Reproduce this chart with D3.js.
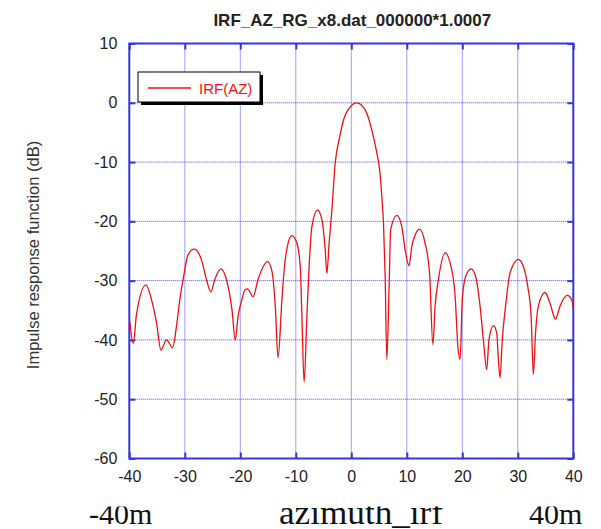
<!DOCTYPE html>
<html lang="en">
<head>
<meta charset="UTF-8">
<title>IRF azimuth</title>
<style>
  body { margin: 0; background: #fff; }
  svg { display: block; }
</style>
</head>
<body>
<svg id="chart" width="601" height="529"></svg>
<script src="https://cdnjs.cloudflare.com/ajax/libs/d3/7.8.5/d3.min.js"></script>
<script>

// azimuth position (m) and response (dB)
let azPos = [-39.9, -39.3, -38.7, -37.0, -36.0, -35.1, -34.3, -33.3, -32.2, -31.5,
  -30.9, -30.1, -29.4, -28.3, -27.0, -26.1, -25.3, -24.6, -23.5, -22.5,
  -21.5, -20.9, -20.4, -19.7, -19.2, -18.7, -17.7, -16.8, -15.1, -14.3,
  -13.7, -13.2, -12.5, -12.1, -11.4, -10.7, -9.8, -9.2, -8.9, -8.5,
  -8.0, -7.6, -7.1, -6.1, -5.3, -4.7, -4.4, -4.0, -3.5, -2.9,
  -2.1, -1.3, -0.3, 1.0, 2.5, 3.7, 4.5, 5.1, 5.5, 5.8,
  6.1, 6.4, 6.8, 7.1, 8.2, 9.1, 9.7, 10.4, 10.9, 11.5,
  12.3, 13.3, 14.1, 14.7, 15.1, 15.7, 16.9, 17.8, 18.7, 19.2,
  19.6, 20.0, 20.6, 21.6, 22.4, 23.2, 23.8, 24.4, 24.8, 25.6,
  26.2, 26.5, 26.8, 27.2, 27.8, 28.6, 30.1, 31.0, 31.8, 32.4,
  32.8, 33.2, 33.7, 34.9, 35.8, 36.8, 37.6, 38.9, 39.7, 40.0];

let irfDb = [-36.9, -40.6, -35.7, -30.7, -33.2, -37.1, -41.7, -40.0, -41.3, -37.7,
  -33.2, -28.7, -25.6, -24.7, -26.5, -29.8, -31.9, -29.8, -28.0, -29.8,
  -34.9, -40.0, -36.0, -33.2, -31.6, -31.4, -32.7, -29.8, -26.8, -28.4,
  -34.3, -43.0, -33.2, -28.2, -23.7, -22.4, -23.7, -27.6, -36.0, -47.1,
  -36.0, -27.6, -20.9, -18.1, -19.7, -24.8, -28.8, -23.7, -18.1, -10.2,
  -5.8, -2.6, -0.8, 0.0, -1.2, -4.6, -8.0, -11.3, -15.8, -20.3,
  -29.3, -43.3, -31.5, -21.4, -19.0, -20.9, -24.8, -27.5, -24.2, -22.3,
  -21.3, -23.7, -28.7, -40.8, -34.3, -29.8, -25.3, -27.0, -32.5, -41.1,
  -43.3, -33.2, -29.3, -28.0, -29.3, -34.3, -40.0, -45.0, -40.0, -37.6,
  -38.8, -43.3, -46.4, -40.0, -34.3, -28.7, -26.4, -27.6, -31.0, -36.0,
  -45.8, -38.8, -34.3, -32.0, -33.8, -36.5, -34.3, -32.5, -33.2, -34.6];

let xTicks = [-40, -30, -20, -10, 0, 10, 20, 30, 40];
let yTicks = [10, 0, -10, -20, -30, -40, -50, -60];

let title = "IRF_AZ_RG_x8.dat_000000*1.0007";
let yTitle = "Impulse response function (dB)";
let legendName = "IRF(AZ)";
let footer = ["-40m", "azimuth_irf", "40m"];

let pLeft = 129.3, pRight = 573.3, pTop = 43.5, pBottom = 458.5;
let blue = "#3535dd";

let svg = d3.select("#chart");

let x = d3.scaleLinear().domain([-40, 40]).range([pLeft, pRight]);
let y = d3.scaleLinear().domain([-60, 10]).range([pBottom, pTop]);

// grid
svg.append("g").selectAll("line")
  .data(xTicks.slice(1, -1)).enter().append("line")
  .attr("x1", d => x(d)).attr("x2", d => x(d))
  .attr("y1", pTop).attr("y2", pBottom)
  .attr("stroke", "#4040ff").attr("stroke-width", 1)
  .attr("stroke-dasharray", "1,1");
svg.append("g").selectAll("line")
  .data(yTicks.slice(1, -1)).enter().append("line")
  .attr("x1", pLeft).attr("x2", pRight)
  .attr("y1", d => y(d)).attr("y2", d => y(d))
  .attr("stroke", "#4040ff").attr("stroke-width", 1)
  .attr("stroke-dasharray", "1,1");

// axes with inward ticks, plain hyphen for negatives
let fmt = d => String(d);
let ax = d3.axisBottom(x).tickValues(xTicks).tickFormat(fmt).tickSizeInner(-6).tickSizeOuter(0).tickPadding(12);
let ay = d3.axisLeft(y).tickValues(yTicks).tickFormat(fmt).tickSizeInner(-6).tickSizeOuter(0).tickPadding(12);
let ax2 = d3.axisTop(x).tickValues(xTicks).tickSizeInner(-6).tickSizeOuter(0).tickFormat("");
let ay2 = d3.axisRight(y).tickValues(yTicks).tickSizeInner(-6).tickSizeOuter(0).tickFormat("");

function styleAxis(g) {
  g.select(".domain").remove();
  g.selectAll(".tick line").attr("stroke", blue).attr("stroke-width", 2);
  g.selectAll("text").attr("fill", "#222").attr("font-family", "Liberation Sans, Arial, sans-serif").attr("font-size", 16);
}

svg.append("g").attr("transform", `translate(0,${pBottom})`).call(ax).call(styleAxis);
svg.append("g").attr("transform", `translate(${pLeft},0)`).call(ay).call(styleAxis);
svg.append("g").attr("transform", `translate(0,${pTop})`).call(ax2).call(styleAxis);
svg.append("g").attr("transform", `translate(${pRight},0)`).call(ay2).call(styleAxis);

svg.append("rect")
  .attr("x", pLeft).attr("y", pTop)
  .attr("width", pRight - pLeft).attr("height", pBottom - pTop)
  .attr("fill", "none").attr("stroke", blue).attr("stroke-width", 2);

// curve
let pts = azPos.map((d, i) => [d, irfDb[i]]);
let line = d3.line()
  .x(d => x(d[0]))
  .y(d => y(d[1]))
  .curve(d3.curveMonotoneX);

svg.append("path")
  .datum(pts)
  .attr("fill", "none")
  .attr("stroke", "#ee1111")
  .attr("stroke-width", 1.3)
  .attr("d", line);

// legend
let lg = svg.append("g").attr("transform", "translate(138,72)");
lg.append("rect").attr("x", 3).attr("y", 3).attr("width", 122).attr("height", 30).attr("fill", "#000");
lg.append("rect").attr("x", 0).attr("y", 0).attr("width", 122).attr("height", 30)
  .attr("fill", "#fff").attr("stroke", "#000").attr("stroke-width", 1);
lg.append("line").attr("x1", 10).attr("x2", 53).attr("y1", 16).attr("y2", 16)
  .attr("stroke", "#ee1111").attr("stroke-width", 1.3);
lg.append("text").attr("x", 61).attr("y", 21.5)
  .attr("fill", "#ee1111")
  .attr("font-family", "Liberation Sans, Arial, sans-serif")
  .attr("font-size", 15)
  .text(legendName);

// titles
svg.append("text")
  .attr("x", (pLeft + pRight) / 2 + 1).attr("y", 26)
  .attr("text-anchor", "middle")
  .attr("font-family", "Liberation Sans, Arial, sans-serif")
  .attr("font-weight", "bold").attr("font-size", 17)
  .attr("fill", "#222")
  .text(title);

svg.append("text")
  .attr("transform", "translate(39,255) rotate(-90)")
  .attr("text-anchor", "middle")
  .attr("font-family", "Liberation Sans, Arial, sans-serif")
  .attr("font-size", 16.5)
  .attr("fill", "#333")
  .text(yTitle);

// footer labels, top part cut off as in the source image
svg.append("clipPath").attr("id", "footclip")
  .append("rect").attr("x", 0).attr("y", 506.5).attr("width", 601).attr("height", 25);
let ft = svg.append("g").attr("clip-path", "url(#footclip)")
  .attr("font-family", "Liberation Serif, Times New Roman, serif")
  .attr("fill", "#111");
ft.append("text").attr("x", 89).attr("y", 523.5).attr("font-size", 30).text(footer[0]);
ft.append("text").attr("x", 279).attr("y", 523.5).attr("font-size", 34)
  .attr("textLength", 164).attr("lengthAdjust", "spacingAndGlyphs").text(footer[1]);
ft.append("text").attr("x", 529).attr("y", 523.5).attr("font-size", 30).text(footer[2]);

</script>
</body>
</html>
